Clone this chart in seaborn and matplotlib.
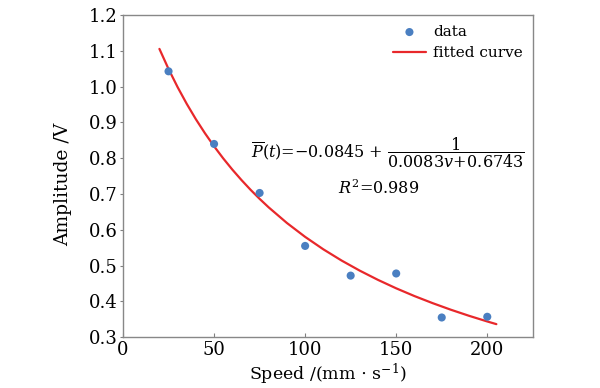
import matplotlib
matplotlib.use("Agg")
import matplotlib.pyplot as plt
import seaborn as sns
import pandas as pd

speed = [25, 50, 75, 100, 125, 150, 175, 200]
amplitude = [1.043, 0.840, 0.703, 0.555, 0.472, 0.478, 0.355, 0.357]

curve_speed = [20, 25, 30, 35, 40, 45, 50, 55, 60, 65, 70, 75, 80, 90, 100,
               110, 120, 130, 140, 150, 160, 170, 180, 190, 200, 205]
curve_amp = [1.1056, 1.0495, 0.9986, 0.9520, 0.9092, 0.8699, 0.8335, 0.7998,
             0.7685, 0.7394, 0.7121, 0.6866, 0.6627, 0.6191, 0.5803, 0.5455,
             0.5142, 0.4859, 0.4601, 0.4365, 0.4149, 0.3951, 0.3767, 0.3597,
             0.3439, 0.3364]

xticks = [0, 50, 100, 150, 200]
yticks = [0.3, 0.4, 0.5, 0.6, 0.7, 0.8, 0.9, 1.0, 1.1, 1.2]

sns.set_style("white")
plt.rcParams['font.family'] = ['DejaVu Serif']
plt.rcParams['mathtext.fontset'] = 'dejavuserif'
plt.rcParams['text.color'] = 'black'
plt.rcParams['axes.labelcolor'] = 'black'
plt.rcParams['xtick.color'] = 'black'
plt.rcParams['ytick.color'] = 'black'

fig = plt.figure(figsize=(6, 3.88), dpi=100)
ax = fig.add_axes([0.205, 0.131, 0.683, 0.830])

df_pts = pd.DataFrame({"speed": speed, "amp": amplitude})
df_fit = pd.DataFrame({"speed": curve_speed, "amp": curve_amp})

sns.lineplot(data=df_fit, x="speed", y="amp", ax=ax, color="#e8282b",
             linewidth=1.6, label="fitted curve", zorder=2)
sns.scatterplot(data=df_pts, x="speed", y="amp", ax=ax, color="#4a7fc1",
                s=34, edgecolor="none", label="data", zorder=3)

ax.set_xlim(0, 225)
ax.set_ylim(0.3, 1.2)
ax.set_xticks(xticks)
ax.set_yticks(yticks)
ax.set_xticklabels([str(t) for t in xticks])
ax.set_yticklabels([f"{t:.1f}" for t in yticks])
ax.tick_params(axis="x", direction="in", length=3, width=0.8, color="#808080",
               labelcolor="black", labelsize=13, pad=3, bottom=True, top=False)
ax.tick_params(axis="y", direction="out", length=2, width=0.8, color="#808080",
               labelcolor="black", labelsize=13, pad=2, left=True, right=False)
for sp in ax.spines.values():
    sp.set_color("#888888")
    sp.set_linewidth(1.0)

ax.set_xlabel(r"Speed /(mm $\cdot$ s$^{-1}$)", fontsize=12.5, labelpad=2,
              color="black")
ax.set_ylabel("Amplitude /V", fontsize=13.5, labelpad=5, color="black")
ax.yaxis.set_label_coords(-0.125, 0.475)

handles, labels = ax.get_legend_handles_labels()
order = [labels.index("data"), labels.index("fitted curve")]
leg = ax.legend([handles[i] for i in order], [labels[i] for i in order],
                loc="upper right", frameon=False, fontsize=11,
                handlelength=2.2, handletextpad=0.45, borderaxespad=0.25,
                labelspacing=0.45, borderpad=0.4)
for t in leg.get_texts():
    t.set_color("black")

ax.text(70.5, 0.815, r"$\overline{P}(t)$=$-$0.0845 + $\dfrac{1}{0.0083v\!+\!0.6743}$",
        fontsize=11.5, ha="left", va="center", color="black")
ax.text(118, 0.715, r"$R^2$=0.989", fontsize=11.5, ha="left", va="center",
        color="black")

fig.savefig("out.png", dpi=100)
